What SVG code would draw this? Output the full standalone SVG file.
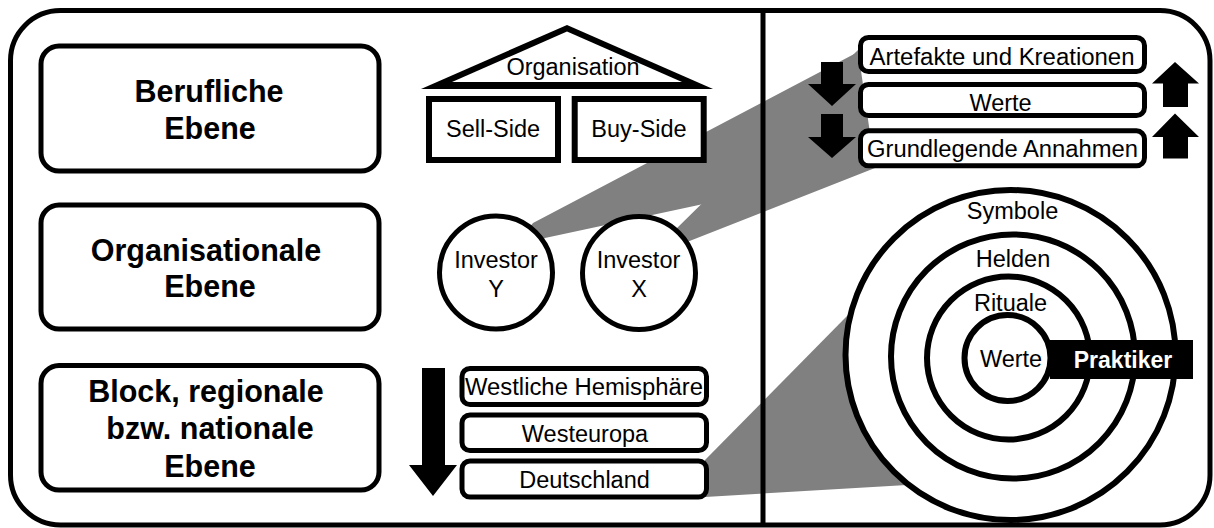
<svg xmlns="http://www.w3.org/2000/svg" width="1214" height="528" viewBox="0 0 1214 528">
<style>
  .frame{fill:#fff;stroke:#000;stroke-width:5}
  .box{fill:#fff;stroke:#000;stroke-width:5}
  .sq{fill:#fff;stroke:#000;stroke-width:6}
  .ring{fill:#fff;stroke:#000;stroke-width:6}
  .band{fill:#808080;stroke:none}
  .arr{fill:#000;stroke:none}
  text{font-family:"Liberation Sans",Arial,sans-serif;fill:#000;text-anchor:middle}
  .b{font-weight:bold;font-size:30.5px}
  .r{font-size:23.5px}
  .w{fill:#fff;font-weight:bold;font-size:23px}
</style>
<rect class="frame" x="10.5" y="10.5" width="1199.5" height="514.5" rx="50" ry="50"/>

<g id="connectors">
  <polygon class="band" points="496,272 533,223 858,52 858,171 545,238"/>
  <polygon class="band" points="639,273 675,230 858,50 875,168 687,242"/>
  <polygon class="band" points="705,460 848,315 1010,355 907,485 705,497"/>
</g>

<line x1="763" y1="10" x2="763" y2="525" stroke="#000" stroke-width="5"/>

<g id="berufliche">
  <rect class="box" x="41" y="46" width="338" height="125" rx="18"/>
  <text class="b" x="209" y="102">Berufliche</text>
  <text class="b" x="210" y="139">Ebene</text>
</g>
<g id="organisationale">
  <rect class="box" x="41" y="205" width="338" height="124" rx="18"/>
  <text class="b" x="206" y="261">Organisationale</text>
  <text class="b" x="210" y="297">Ebene</text>
</g>
<g id="block">
  <rect class="box" x="41" y="365.5" width="338" height="124.5" rx="18"/>
  <text class="b" x="206" y="402">Block, regionale</text>
  <text class="b" x="210" y="439">bzw. nationale</text>
  <text class="b" x="210" y="477">Ebene</text>
</g>

<g id="organisation">
  <polygon class="arr" points="421,89 713,89 567,25"/>
  <polygon fill="#fff" points="452,82 682,82 567,31.5"/>
  <text class="r" x="573" y="75">Organisation</text>
</g>
<g id="sell-side">
  <rect class="sq" x="429" y="99" width="129" height="61"/>
  <text class="r" x="493" y="137">Sell-Side</text>
</g>
<g id="buy-side">
  <rect class="sq" x="574.7" y="99" width="129" height="61"/>
  <text class="r" x="639" y="137">Buy-Side</text>
</g>

<g id="investor-y">
  <circle class="box" cx="496" cy="272.5" r="56.5"/>
  <text class="r" x="496" y="268">Investor</text>
  <text class="r" x="496" y="297">Y</text>
</g>
<g id="investor-x">
  <circle class="box" cx="639" cy="273" r="56.5"/>
  <text class="r" x="638.5" y="268">Investor</text>
  <text class="r" x="639" y="297">X</text>
</g>

<g id="down-arrow-left">
  <polygon class="arr" points="422,368 445,368 445,465 457,465 433,496 409,465 422,465"/>
</g>
<g id="westliche-hemisphaere">
  <rect class="box" x="462" y="368.5" width="244.5" height="36" rx="8"/>
  <text class="r" x="584" y="395" textLength="238" lengthAdjust="spacingAndGlyphs">Westliche Hemisphäre</text>
</g>
<g id="westeuropa">
  <rect class="box" x="462" y="415" width="244.5" height="35.5" rx="8"/>
  <text class="r" x="585" y="441.5">Westeuropa</text>
</g>
<g id="deutschland">
  <rect class="box" x="462" y="461" width="244.5" height="36" rx="8"/>
  <text class="r" x="584.5" y="488">Deutschland</text>
</g>

<g id="artefakte">
  <rect class="box" x="860.5" y="37.5" width="284" height="34" rx="8"/>
  <text class="r" x="1002" y="65" textLength="265" lengthAdjust="spacingAndGlyphs">Artefakte und Kreationen</text>
</g>
<g id="werte-box">
  <rect class="box" x="860.5" y="84.5" width="284" height="31" rx="8"/>
  <text class="r" x="1000.5" y="111">Werte</text>
</g>
<g id="annahmen">
  <rect class="box" x="860.5" y="130.8" width="284" height="35" rx="8"/>
  <text class="r" x="1002.5" y="157" textLength="271" lengthAdjust="spacingAndGlyphs">Grundlegende Annahmen</text>
</g>
<g id="arrows-right">
  <polygon class="arr" points="821,62 843,62 843,84 856,84 832,106 808,84 821,84"/>
  <polygon class="arr" points="821,114 843,114 843,137 856,137 832,158 808,137 821,137"/>
  <polygon class="arr" points="1175,62 1199,83.5 1188,83.5 1188,107 1163,107 1163,83.5 1152,83.5"/>
  <polygon class="arr" points="1175,113.5 1199,137 1188,137 1188,158.5 1163,158.5 1163,137 1152,137"/>
</g>

<g id="zwiebel">
  <circle class="ring" cx="1010.5" cy="355" r="165"/>
  <circle class="ring" cx="1013" cy="356.5" r="122"/>
  <circle class="ring" cx="1008.5" cy="358" r="81.5"/>
  <circle class="ring" cx="1007.5" cy="358" r="43"/>
  <text class="r" x="1012.5" y="219">Symbole</text>
  <text class="r" x="1013" y="267">Helden</text>
  <text class="r" x="1010.5" y="310.5">Rituale</text>
  <text class="r" x="1011" y="366.5">Werte</text>
</g>
<g id="praktiker">
  <rect x="1050" y="340" width="143" height="39" fill="#000"/>
  <text class="w" x="1123" y="367.5">Praktiker</text>
</g>
</svg>
